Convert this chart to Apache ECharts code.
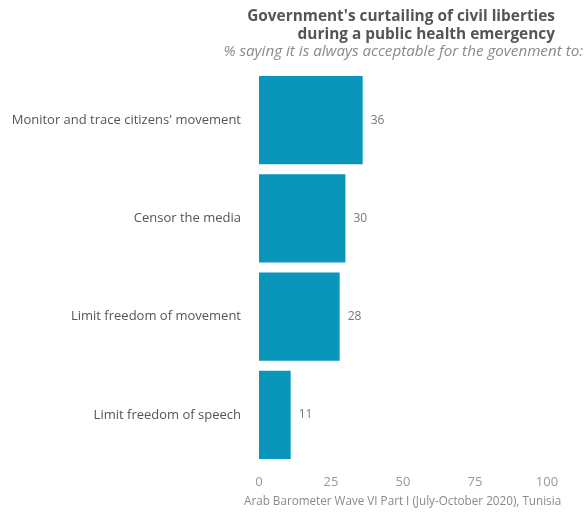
<!DOCTYPE html>
<html><head><meta charset="utf-8">
<script src="https://cdn.jsdelivr.net/npm/echarts@6/dist/echarts.min.js"></script>
<style>html,body{margin:0;padding:0;background:#fff}#c{width:586px;height:520px}</style>
</head><body><div id="c"></div>
<script>
var categories = ["Monitor and trace citizens' movement", "Censor the media", "Limit freedom of movement", "Limit freedom of speech"];
var values = [36, 30, 28, 11];
var xTicks = [0, 25, 50, 75, 100];
var titleLines = ["Government's curtailing of civil liberties", "during a public health emergency"];
var subtitle = '% saying it is always acceptable for the govenment to:';
var source = 'Arab Barometer Wave VI Part I (July-October 2020), Tunisia';

var chart = echarts.init(document.getElementById('c'));
chart.setOption({
  animation: false,
  graphic: [
    {type: 'text', style: {text: titleLines[0], x: 555, y: 17, align: 'right', verticalAlign: 'middle',
      font: 'bold 15.4px "Open Sans"', fill: '#555'}},
    {type: 'text', style: {text: titleLines[1], x: 555, y: 35, align: 'right', verticalAlign: 'middle',
      font: 'bold 15.4px "Open Sans"', fill: '#555'}},
    {type: 'text', style: {text: subtitle, x: 583, y: 52, align: 'right', verticalAlign: 'middle',
      font: 'italic 15.2px "Open Sans"', fill: '#8a8a8a'}},
    {type: 'text', style: {text: source, x: 244, y: 502, align: 'left', verticalAlign: 'middle',
      font: '11.7px "Open Sans"', fill: '#8a8a8a'}}
  ],
  grid: {left: 259, right: 39, top: 71, bottom: 56},
  xAxis: {type: 'value', min: 0, max: 100, interval: 25,
    axisLine: {show: false}, axisTick: {show: false}, splitLine: {show: false},
    axisLabel: {margin: 12, color: '#999', fontFamily: 'Open Sans', fontSize: 13,
      formatter: function(v){ return xTicks.indexOf(v) >= 0 ? String(v) : ''; }}},
  yAxis: {type: 'category', data: categories, inverse: true,
    axisLine: {show: false}, axisTick: {show: false},
    axisLabel: {margin: 18, color: '#555', fontFamily: 'Open Sans', fontSize: 13}},
  series: [{type: 'bar', data: values, barCategoryGap: '10%',
    itemStyle: {color: '#0a95ba'},
    label: {show: true, position: 'right', distance: 8, color: '#777', fontFamily: 'Open Sans', fontSize: 12}}]
});
</script></body></html>
